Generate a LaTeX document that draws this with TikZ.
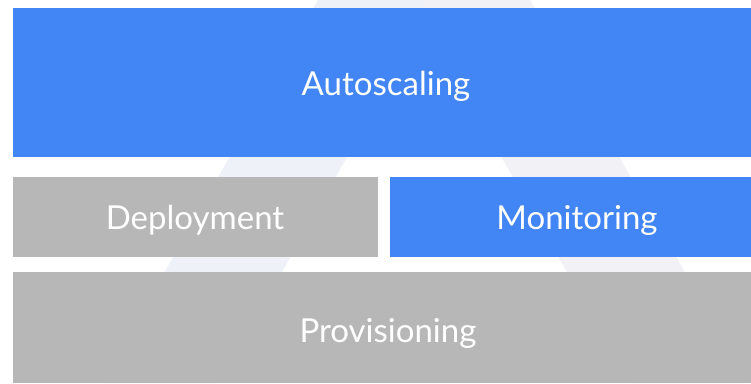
\documentclass[tikz,border=0pt]{standalone}
\usepackage{fontspec}
\setmainfont{Lato}
\definecolor{gblue}{HTML}{4285F4}
\definecolor{ggray}{HTML}{B7B7B7}
\definecolor{legL}{HTML}{EEF2F8}
\definecolor{legR}{HTML}{F1F1F6}
\begin{document}
\begin{tikzpicture}[x=1pt,y=-1pt,
  block/.style={fill=#1,draw=none},
  label/.style={text=white,font=\fontsize{33}{33}\selectfont,anchor=base,inner sep=0pt}]
\useasboundingbox (0,0) rectangle (751,383);
% faint backdrop: a large open triangle
\fill[legL] (318,0) -- (424,0) -- (424,21) -- (282,272) -- (220,383) -- (102,383) -- cycle;
\fill[legR] (424,0) -- (530,0) -- (748,383) -- (630,383) -- (424,21) -- cycle;
% layers
\fill[block=gblue] (13,8) rectangle (751,157);
\fill[block=ggray] (13,177) rectangle (378,257);
\fill[block=gblue] (390,177) rectangle (751,257);
\fill[block=ggray] (13,272) rectangle (751,383);
\node[label] (auto) at (386,95) {Autoscaling};
\node[label] (dep) at (195,229) {Deployment};
\node[label] (mon) at (577,229) {Monitoring};
\node[label] (prov) at (388,342) {Provisioning};
\end{tikzpicture}
\end{document}
